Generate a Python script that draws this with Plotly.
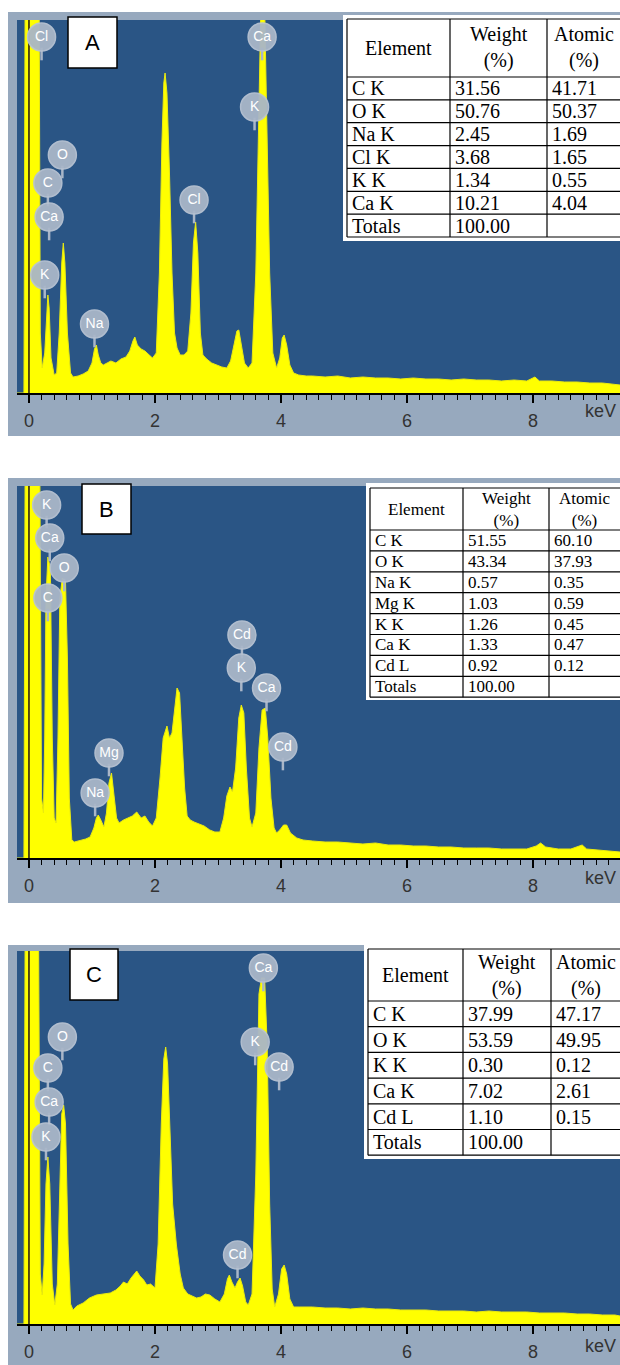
import plotly.graph_objects as go

W, H = 620, 1365

# ---------------- data ----------------
# Panel A spectrum: energy (keV) and counts (arbitrary units)
A_kev = [-0.19, -0.08, -0.06, 0.16, 0.18, 0.21, 0.25, 0.28, 0.30, 0.32, 0.35, 0.40, 0.44, 0.48, 0.52, 0.545,
         0.57, 0.61, 0.66, 0.70, 0.78, 0.86, 0.94, 1.00, 1.04, 1.07, 1.10, 1.14, 1.18, 1.24, 1.30, 1.38, 1.46,
         1.54, 1.60, 1.65, 1.68, 1.72, 1.78, 1.84, 1.90, 1.96, 2.02, 2.07, 2.11, 2.14, 2.16, 2.19, 2.23, 2.27,
         2.31, 2.35, 2.40, 2.46, 2.52, 2.57, 2.61, 2.645, 2.68, 2.72, 2.76, 2.82, 2.90, 2.98, 3.06, 3.14, 3.20,
         3.26, 3.30, 3.33, 3.37, 3.42, 3.48, 3.54, 3.60, 3.65, 3.69, 3.73, 3.77, 3.82, 3.87, 3.93, 3.98, 4.02,
         4.05, 4.09, 4.14, 4.20, 4.28, 4.40, 4.5, 4.7, 4.9, 5.1, 5.3, 5.5, 5.7, 5.9, 6.1, 6.3, 6.5, 6.7, 6.9,
         7.1, 7.3, 7.5, 7.7, 7.9, 8.03, 8.1, 8.3, 8.5, 8.7, 8.9, 9.1, 9.3, 9.38]
A_cts = [0, 0, 420, 420, 60, 25, 40, 85, 98, 85, 35, 18, 20, 60, 130, 150,
         130, 60, 20, 16, 17, 19, 22, 30, 44, 48, 38, 30, 28, 30, 32, 30, 34,
         36, 42, 52, 56, 48, 44, 42, 38, 35, 40, 120, 250, 310, 320, 300, 220, 120,
         60, 45, 38, 38, 42, 80, 150, 171, 140, 60, 38, 34, 30, 28, 26, 25, 32,
         50, 62, 63, 50, 30, 25, 30, 120, 300, 420, 420, 300, 120, 40, 25, 35, 55,
         58, 48, 28, 20, 18, 17, 17, 16, 17, 15, 16, 15, 15, 14, 15, 14, 14, 13, 14,
         13, 13, 12, 13, 12, 16, 12, 12, 11, 11, 10, 10, 9, 8]

B_kev = [-0.19, -0.08, -0.06, 0.17, 0.20, 0.23, 0.25, 0.27, 0.30, 0.34, 0.37, 0.40, 0.43, 0.46, 0.49, 0.53,
         0.58, 0.61, 0.64, 0.68, 0.72, 0.80, 0.90, 0.97, 1.03, 1.07, 1.10, 1.14, 1.19, 1.23, 1.27, 1.31, 1.35,
         1.39, 1.43, 1.50, 1.57, 1.64, 1.71, 1.78, 1.84, 1.90, 1.96, 2.02, 2.08, 2.13, 2.19, 2.23, 2.27, 2.31,
         2.35, 2.39, 2.43, 2.47, 2.51, 2.56, 2.62, 2.70, 2.78, 2.87, 2.95, 3.03, 3.09, 3.14, 3.19, 3.23, 3.28,
         3.33, 3.37, 3.41, 3.45, 3.50, 3.54, 3.60, 3.65, 3.70, 3.75, 3.79, 3.84, 3.89, 3.93, 3.98, 4.04, 4.09,
         4.15, 4.25, 4.35, 4.5, 4.7, 4.9, 5.1, 5.3, 5.5, 5.7, 5.9, 6.1, 6.3, 6.5, 6.7, 6.9, 7.1, 7.3, 7.5, 7.7,
         7.9, 8.05, 8.12, 8.2, 8.4, 8.6, 8.72, 8.78, 8.85, 9.0, 9.2, 9.38]
B_cts = [0, 0, 420, 420, 60, 45, 120, 260, 301, 290, 120, 40, 35, 120, 260, 280,
         276, 200, 60, 18, 16, 17, 19, 21, 30, 40, 43, 38, 31, 45, 75, 85, 65,
         40, 35, 38, 40, 42, 46, 40, 42, 36, 32, 40, 80, 120, 132, 120, 125, 150,
         170, 165, 120, 70, 42, 38, 36, 34, 32, 28, 26, 26, 40, 62, 71, 66, 90,
         140, 153, 145, 90, 40, 31, 45, 110, 148, 150, 120, 60, 30, 25, 28, 33, 33,
         25, 20, 18, 17, 16, 16, 15, 14, 15, 13, 13, 12, 12, 11, 11, 10, 10, 10, 9, 9,
         9, 12, 15, 11, 9, 9, 12, 13, 9, 8, 7, 6]

C_kev = [-0.19, -0.08, -0.06, 0.15, 0.18, 0.21, 0.24, 0.27, 0.30, 0.33, 0.37, 0.41, 0.45, 0.49, 0.52, 0.55,
         0.58, 0.62, 0.66, 0.70, 0.76, 0.86, 0.96, 1.07, 1.18, 1.29, 1.38, 1.45, 1.50, 1.56, 1.62, 1.67, 1.71,
         1.76, 1.82, 1.87, 1.93, 2.00, 2.05, 2.10, 2.14, 2.17, 2.20, 2.24, 2.28, 2.34, 2.40, 2.45, 2.52, 2.59,
         2.66, 2.73, 2.80, 2.87, 2.95, 3.03, 3.10, 3.15, 3.18, 3.22, 3.27, 3.31, 3.35, 3.39, 3.44, 3.48, 3.54,
         3.60, 3.65, 3.69, 3.74, 3.78, 3.82, 3.86, 3.90, 3.96, 4.01, 4.05, 4.09, 4.14, 4.20, 4.30, 4.5, 4.7,
         4.9, 5.1, 5.3, 5.5, 5.7, 5.9, 6.1, 6.3, 6.5, 6.7, 6.9, 7.1, 7.3, 7.5, 7.7, 7.9, 8.1, 8.3, 8.5, 8.7,
         8.9, 9.1, 9.3, 9.38]
C_cts = [0, 0, 420, 420, 50, 29, 60, 140, 167, 140, 40, 19, 40, 150, 210, 219,
         200, 80, 20, 14, 18, 21, 26, 29, 30, 31, 34, 38, 42, 40, 46, 50, 53,
         48, 44, 39, 40, 36, 80, 200, 265, 277, 260, 190, 120, 79, 50, 36, 30, 28,
         26, 27, 30, 29, 25, 22, 30, 45, 49, 42, 36, 42, 46, 38, 22, 19, 30,
         150, 330, 346, 346, 280, 120, 35, 17, 30, 55, 59, 50, 25, 17, 17, 17, 16,
         16, 15, 16, 15, 15, 14, 14, 14, 13, 13, 13, 12, 13, 12, 12, 12, 11, 11, 11, 10,
         10, 9, 9, 8]

# Peak labels: element, energy (keV), label height (counts)
A_lab = ["Cl", "O", "C", "Ca", "K", "Na", "Cl", "Ca", "K"]
A_lab_kev = [0.20, 0.53, 0.30, 0.32, 0.25, 1.04, 2.62, 3.70, 3.58]
A_lab_h = [356, 238, 210, 176, 118, 69, 193, 356, 286]

B_lab = ["K", "Ca", "O", "C", "Mg", "Na", "Cd", "K", "Ca", "Cd"]
B_lab_kev = [0.28, 0.33, 0.56, 0.30, 1.27, 1.05, 3.38, 3.37, 3.77, 4.03]
B_lab_h = [353, 320, 290, 260, 105, 65, 223, 190, 170, 111]

C_lab = ["O", "C", "Ca", "K", "Ca", "K", "Cd", "Cd"]
C_lab_kev = [0.53, 0.30, 0.32, 0.27, 3.72, 3.59, 3.97, 3.31]
C_lab_h = [287, 256, 222, 187, 356, 282, 257, 69]

ZERO_KEV = 0.0
X_TICKS = [0, 2, 4, 6, 8]

# Tables
A_elem = ["C K", "O K", "Na K", "Cl K", "K K", "Ca K", "Totals"]
A_wt = ["31.56", "50.76", "2.45", "3.68", "1.34", "10.21", "100.00"]
A_at = ["41.71", "50.37", "1.69", "1.65", "0.55", "4.04", ""]

B_elem = ["C K", "O K", "Na K", "Mg K", "K K", "Ca K", "Cd L", "Totals"]
B_wt = ["51.55", "43.34", "0.57", "1.03", "1.26", "1.33", "0.92", "100.00"]
B_at = ["60.10", "37.93", "0.35", "0.59", "0.45", "0.47", "0.12", ""]

C_elem = ["C K", "O K", "K K", "Ca K", "Cd L", "Totals"]
C_wt = ["37.99", "53.59", "0.30", "7.02", "1.10", "100.00"]
C_at = ["47.17", "49.95", "0.12", "2.61", "0.15", ""]

HEADERS = ["Element", "Weight<br>(%)", "Atomic<br>(%)"]
PANEL_NAMES = ["A", "B", "C"]

# ---------------- layout geometry (pixels) ----------------
def px(x):
    return x / W

def py(y):
    return 1 - y / H

BLUE = "#2a5585"
FRAME = "#97a9be"
YELLOW = "#ffff00"
BADGE = "#a9b6c8"

panels = [
    dict(name="A", kev=A_kev, cts=A_cts, lab=A_lab, lk=A_lab_kev, lh=A_lab_h,
         frame=(8, 12, 620, 436), plot=(17, 20, 620, 393), ymax=373,
         box=(68, 17, 117, 68), kev_y=411,
         table=dict(bg=(343, 15, 620, 241), cols=[347, 450, 547, 625], top=19, hb=77, rowh=22.86,
                    font=20, elem=A_elem, wt=A_wt, at=A_at)),
    dict(name="B", kev=B_kev, cts=B_cts, lab=B_lab, lk=B_lab_kev, lh=B_lab_h,
         frame=(8, 478, 620, 903), plot=(17, 486, 620, 858), ymax=372,
         box=(82, 484, 131, 534), kev_y=878,
         table=dict(bg=(366, 483, 620, 700), cols=[370, 463, 549, 625], top=488, hb=530, rowh=20.9,
                    font=17, elem=B_elem, wt=B_wt, at=B_at)),
    dict(name="C", kev=C_kev, cts=C_cts, lab=C_lab, lk=C_lab_kev, lh=C_lab_h,
         frame=(8, 945, 620, 1365), plot=(17, 951, 620, 1324), ymax=373,
         box=(70, 949, 118, 1000), kev_y=1346,
         table=dict(bg=(364, 945, 620, 1159), cols=[368, 463, 551, 625], top=949, hb=1001, rowh=25.7,
                    font=20, elem=C_elem, wt=C_wt, at=C_at)),
]

fig = go.Figure()
shapes = []
annotations = []

for i, p in enumerate(panels):
    n = "" if i == 0 else str(i + 1)
    xa, ya = "x" + n, "y" + n
    x0, y0, x1, y1 = p["plot"]

    # frame and blue background
    fx0, fy0, fx1, fy1 = p["frame"]
    shapes.append(dict(type="rect", xref="paper", yref="paper", x0=px(fx0), x1=px(fx1),
                       y0=py(fy1), y1=py(fy0), fillcolor=FRAME, line=dict(width=0), layer="below"))
    shapes.append(dict(type="rect", xref="paper", yref="paper", x0=px(x0), x1=px(x1),
                       y0=py(y1), y1=py(y0), fillcolor=BLUE, line=dict(width=0), layer="below"))

    fig.add_trace(go.Scatter(x=p["kev"], y=p["cts"], mode="lines", fill="tozeroy",
                             fillcolor=YELLOW, line=dict(color="#eaea10", width=1),
                             xaxis=xa, yaxis=ya, hoverinfo="skip"))
    # zero-energy marker line
    fig.add_trace(go.Scatter(x=[ZERO_KEV, ZERO_KEV], y=[0, p["ymax"]], mode="lines",
                             line=dict(color="#2e2410", width=1.6), xaxis=xa, yaxis=ya,
                             hoverinfo="skip"))
    # label stems
    fig.add_trace(go.Scatter(x=p["lk"], y=[h - 17 for h in p["lh"]], mode="markers",
                             marker=dict(symbol="line-ns", size=9, line=dict(width=2.5, color=BADGE)),
                             xaxis=xa, yaxis=ya, hoverinfo="skip"))
    # label badges
    fig.add_trace(go.Scatter(x=p["lk"], y=p["lh"], mode="markers+text", text=p["lab"],
                             textposition="middle center",
                             textfont=dict(family="Liberation Sans", size=14, color="white"),
                             marker=dict(size=28, color=BADGE, opacity=0.95,
                                         line=dict(width=1.5, color="#b8c3d2")),
                             xaxis=xa, yaxis=ya, hoverinfo="skip"))

    dom_x = [px(x0), px(x1)]
    dom_y = [py(y1), py(y0)]
    fig.update_layout(**{
        ("xaxis" + n): dict(domain=dom_x, range=[-0.19, 9.38], anchor=ya,
                            tickmode="array", tickvals=X_TICKS, ticktext=[str(t) for t in X_TICKS],
                            ticks="outside", ticklen=8, tickwidth=1.5, tickcolor="black",
                            showline=True, linecolor="black", linewidth=2,
                            showgrid=False, zeroline=False, ticklabelstandoff=2,
                            tickfont=dict(family="Liberation Sans", size=18, color="#333333"),
                            minor=dict(dtick=0.2, tick0=0, ticks="outside", ticklen=5,
                                       tickwidth=1, tickcolor="black", showgrid=False),
                            fixedrange=True),
        ("yaxis" + n): dict(domain=dom_y, range=[0, p["ymax"]], anchor=xa, visible=False,
                            fixedrange=True),
    })

    # keV unit
    annotations.append(dict(xref="paper", yref="paper", x=px(600), y=py(p["kev_y"]), text="keV",
                            showarrow=False, font=dict(family="Liberation Sans", size=18, color="#333333"),
                            xanchor="center", yanchor="middle"))

    # panel letter box
    bx0, by0, bx1, by1 = p["box"]
    shapes.append(dict(type="rect", xref="paper", yref="paper", x0=px(bx0), x1=px(bx1),
                       y0=py(by1), y1=py(by0), fillcolor="white",
                       line=dict(color="black", width=1.5), layer="above"))
    annotations.append(dict(xref="paper", yref="paper", x=px((bx0 + bx1) / 2), y=py((by0 + by1) / 2),
                            text=PANEL_NAMES[i], showarrow=False,
                            font=dict(family="Liberation Sans", size=22, color="black"),
                            xanchor="center", yanchor="middle"))

    # table
    t = p["table"]
    gx0, gy0, gx1, gy1 = t["bg"]
    shapes.append(dict(type="rect", xref="paper", yref="paper", x0=px(gx0), x1=px(gx1),
                       y0=py(gy1), y1=py(gy0), fillcolor="white", line=dict(width=0), layer="above"))
    cols = t["cols"]
    nrows = len(t["elem"])
    bottom = t["hb"] + nrows * t["rowh"]
    hlines = [t["top"], t["hb"]] + [t["hb"] + (k + 1) * t["rowh"] for k in range(nrows)]
    for yy in hlines:
        shapes.append(dict(type="line", xref="paper", yref="paper", x0=px(cols[0]), x1=px(cols[-1]),
                           y0=py(yy), y1=py(yy), line=dict(color="black", width=1.2), layer="above"))
    for xx in cols:
        shapes.append(dict(type="line", xref="paper", yref="paper", x0=px(xx), x1=px(xx),
                           y0=py(t["top"]), y1=py(bottom), line=dict(color="black", width=1.2),
                           layer="above"))
    fnt = dict(family="Liberation Serif", size=t["font"], color="black")
    for c, head in enumerate(HEADERS):
        right = min(cols[c + 1], 620)
        annotations.append(dict(xref="paper", yref="paper", x=px((cols[c] + right) / 2),
                                y=py((t["top"] + t["hb"]) / 2), text=head, showarrow=False,
                                font=fnt, xanchor="center", yanchor="middle", align="center"))
    for r in range(nrows):
        yc = t["hb"] + (r + 0.5) * t["rowh"]
        for c, vals in enumerate([t["elem"], t["wt"], t["at"]]):
            if vals[r] == "":
                continue
            annotations.append(dict(xref="paper", yref="paper", x=px(cols[c] + 3), y=py(yc),
                                    text=vals[r], showarrow=False, font=fnt,
                                    xanchor="left", yanchor="middle"))

fig.update_layout(width=W, height=H, margin=dict(l=0, r=0, t=0, b=0),
                  paper_bgcolor="white", plot_bgcolor="rgba(0,0,0,0)",
                  showlegend=False, shapes=shapes, annotations=annotations)

fig.write_html("out.html", config={"displayModeBar": False},
               post_script="document.body.style.margin='0';document.body.style.overflow='hidden';")
